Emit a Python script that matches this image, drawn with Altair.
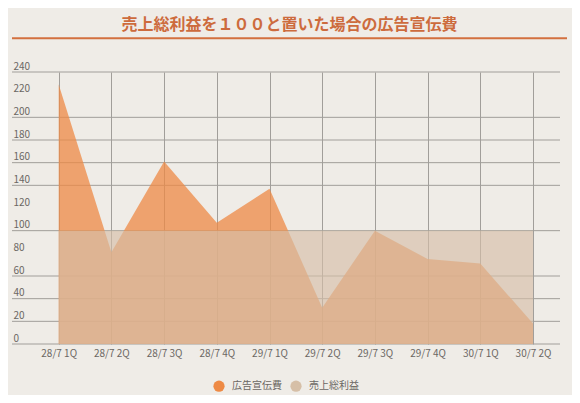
import altair as alt
import pandas as pd

categories = ["28/7 1Q", "28/7 2Q", "28/7 3Q", "28/7 4Q", "29/7 1Q",
              "29/7 2Q", "29/7 3Q", "29/7 4Q", "30/7 1Q", "30/7 2Q"]
ad_values = [229, 81, 161, 107, 137, 32, 100, 75, 71, 18]
profit_values = [100, 100, 100, 100, 100, 100, 100, 100, 100, 100]
series_names = ["広告宣伝費", "売上総利益"]
series_colors = ["#EE8A45", "#D6BFA7"]
y_ticks = [0, 20, 40, 60, 80, 100, 120, 140, 160, 180, 200, 220, 240]
grid_values = [0, 20, 40, 60, 100, 140, 160, 180, 200, 240]
title_text = "売上総利益を１００と置いた場合の広告宣伝費"

FONT = "Noto Sans CJK JP"
GRID = "#A19E9A"
LABEL = "#6B6763"

df = pd.DataFrame({
    "cat": categories + categories,
    "series": [series_names[0]] * len(categories) + [series_names[1]] * len(categories),
    "value": ad_values + profit_values,
})
grid_df = pd.DataFrame({"g": grid_values})

yscale = alt.Scale(domain=[0, 240], nice=False, zero=True)
yaxis = alt.Axis(values=y_ticks, grid=False, ticks=False, domain=False,
                 labelAlign="left", labelBaseline="alphabetic", labelOffset=-3,
                 labelPadding=-1, labelFont=FONT, labelFontSize=10,
                 labelColor=LABEL, title=None)
xenc = alt.X("cat:N", sort=categories,
             scale=alt.Scale(type="point", range=[46.7, 521], padding=0),
             axis=alt.Axis(grid=True, gridColor=GRID, gridWidth=1, ticks=False,
                           domain=False, labelAngle=0, labelPadding=4,
                           labelFont=FONT, labelFontSize=10, labelColor=LABEL,
                           title=None))
color = alt.Color("series:N",
                  scale=alt.Scale(domain=series_names, range=series_colors),
                  legend=alt.Legend(orient="none", legendX=201, legendY=308,
                                    direction="horizontal", title=None,
                                    symbolType="circle", symbolSize=125,
                                    symbolOpacity=1, symbolStrokeWidth=0,
                                    labelFont=FONT, labelFontSize=10,
                                    labelColor=LABEL, labelOffset=7,
                                    columnPadding=8))

grid = alt.Chart(grid_df).mark_rule(color=GRID, strokeWidth=1).encode(
    y=alt.Y("g:Q", scale=yscale, axis=yaxis)
)

base = alt.Chart(df)
area_ad = base.transform_filter(alt.datum.series == series_names[0]).mark_area(
    opacity=0.75
).encode(
    x=xenc,
    y=alt.Y("value:Q", scale=yscale, axis=yaxis, stack=None),
    color=color,
)
area_profit = base.transform_filter(alt.datum.series == series_names[1]).mark_area(
    opacity=0.65
).encode(
    x=xenc,
    y=alt.Y("value:Q", scale=yscale, axis=yaxis, stack=None),
    color=color,
)

underline = alt.Chart(pd.DataFrame({"u": [0]})).mark_rule(
    color="#D3703F", strokeWidth=2
).encode(x=alt.value(0), x2=alt.value(555), y=alt.value(-33.7))

chart = alt.layer(grid, area_ad, area_profit, underline).properties(
    width=548,
    height=272,
    autosize=alt.AutoSizeParams(type="none"),
    padding={"left": 4, "top": 64, "right": 12, "bottom": 51},
    background="#EFECE7",
    title=alt.TitleParams(text=title_text, font=FONT, fontSize=16,
                          fontWeight="bold", color="#CD6B3D", anchor="middle",
                          baseline="alphabetic", dx=3.5, offset=-9),
).configure_view(stroke=None)

chart.save("out.html", embed_options={"renderer": "svg", "actions": False})
